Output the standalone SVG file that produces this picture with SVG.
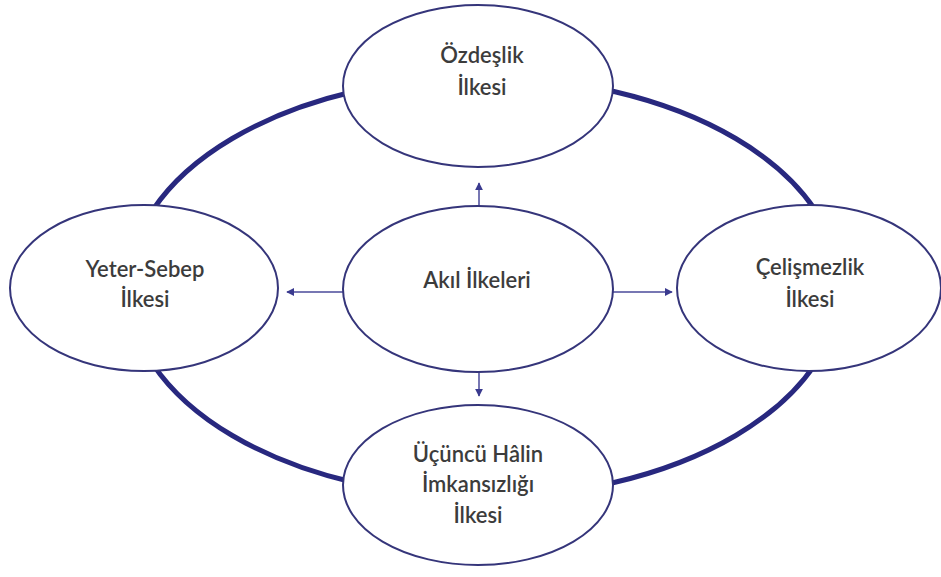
<svg xmlns="http://www.w3.org/2000/svg" width="941" height="577" viewBox="0 0 941 577">
<style>
.node{fill:#fff;stroke:#35357a;stroke-width:2}
.lbl{font-family:Lato,"Open Sans","Liberation Sans",sans-serif;font-size:22px;font-weight:600;fill:#3c3c3c;text-anchor:middle}
.arr{stroke:#4a4a9a;stroke-width:1.5;fill:none;marker-end:url(#ah)}
.ring{fill:none;stroke:#28287f;stroke-width:5}
</style>
<defs>
<marker id="ah" viewBox="0 0 10 10" refX="9" refY="5" markerWidth="8" markerHeight="8" markerUnits="userSpaceOnUse" orient="auto">
<path d="M0,0 L10,5 L0,10 Z" fill="#3a3a8f"/>
</marker>
</defs>
<rect width="941" height="577" fill="#fff"/>
<g id="connectors">
<ellipse class="ring" cx="484" cy="287" rx="356" ry="210"/>
<line class="arr" x1="479" y1="206" x2="479" y2="183"/>
<line class="arr" x1="479" y1="372" x2="479" y2="396"/>
<line class="arr" x1="343" y1="292" x2="287" y2="292"/>
<line class="arr" x1="613" y1="292" x2="672" y2="292"/>
</g>
<g id="ozdeslik">
<ellipse class="node" cx="478" cy="86" rx="135" ry="81"/>
<text class="lbl" x="482" y="63">Özdeşlik</text>
<text class="lbl" x="482" y="95">İlkesi</text>
</g>
<g id="yeter-sebep">
<ellipse class="node" cx="144" cy="288" rx="134" ry="83"/>
<text class="lbl" x="145" y="277">Yeter-Sebep</text>
<text class="lbl" x="145" y="307">İlkesi</text>
</g>
<g id="akil">
<ellipse class="node" cx="478" cy="289" rx="135" ry="83"/>
<text class="lbl" x="477" y="288">Akıl İlkeleri</text>
</g>
<g id="celismezlik">
<ellipse class="node" cx="809" cy="288" rx="132" ry="83"/>
<text class="lbl" x="810" y="275">Çelişmezlik</text>
<text class="lbl" x="810" y="307">İlkesi</text>
</g>
<g id="ucuncu">
<ellipse class="node" cx="478" cy="485" rx="135" ry="80"/>
<text class="lbl" x="478" y="462">Üçüncü Hâlin</text>
<text class="lbl" x="478" y="492">İmkansızlığı</text>
<text class="lbl" x="478" y="523">İlkesi</text>
</g>
</svg>
